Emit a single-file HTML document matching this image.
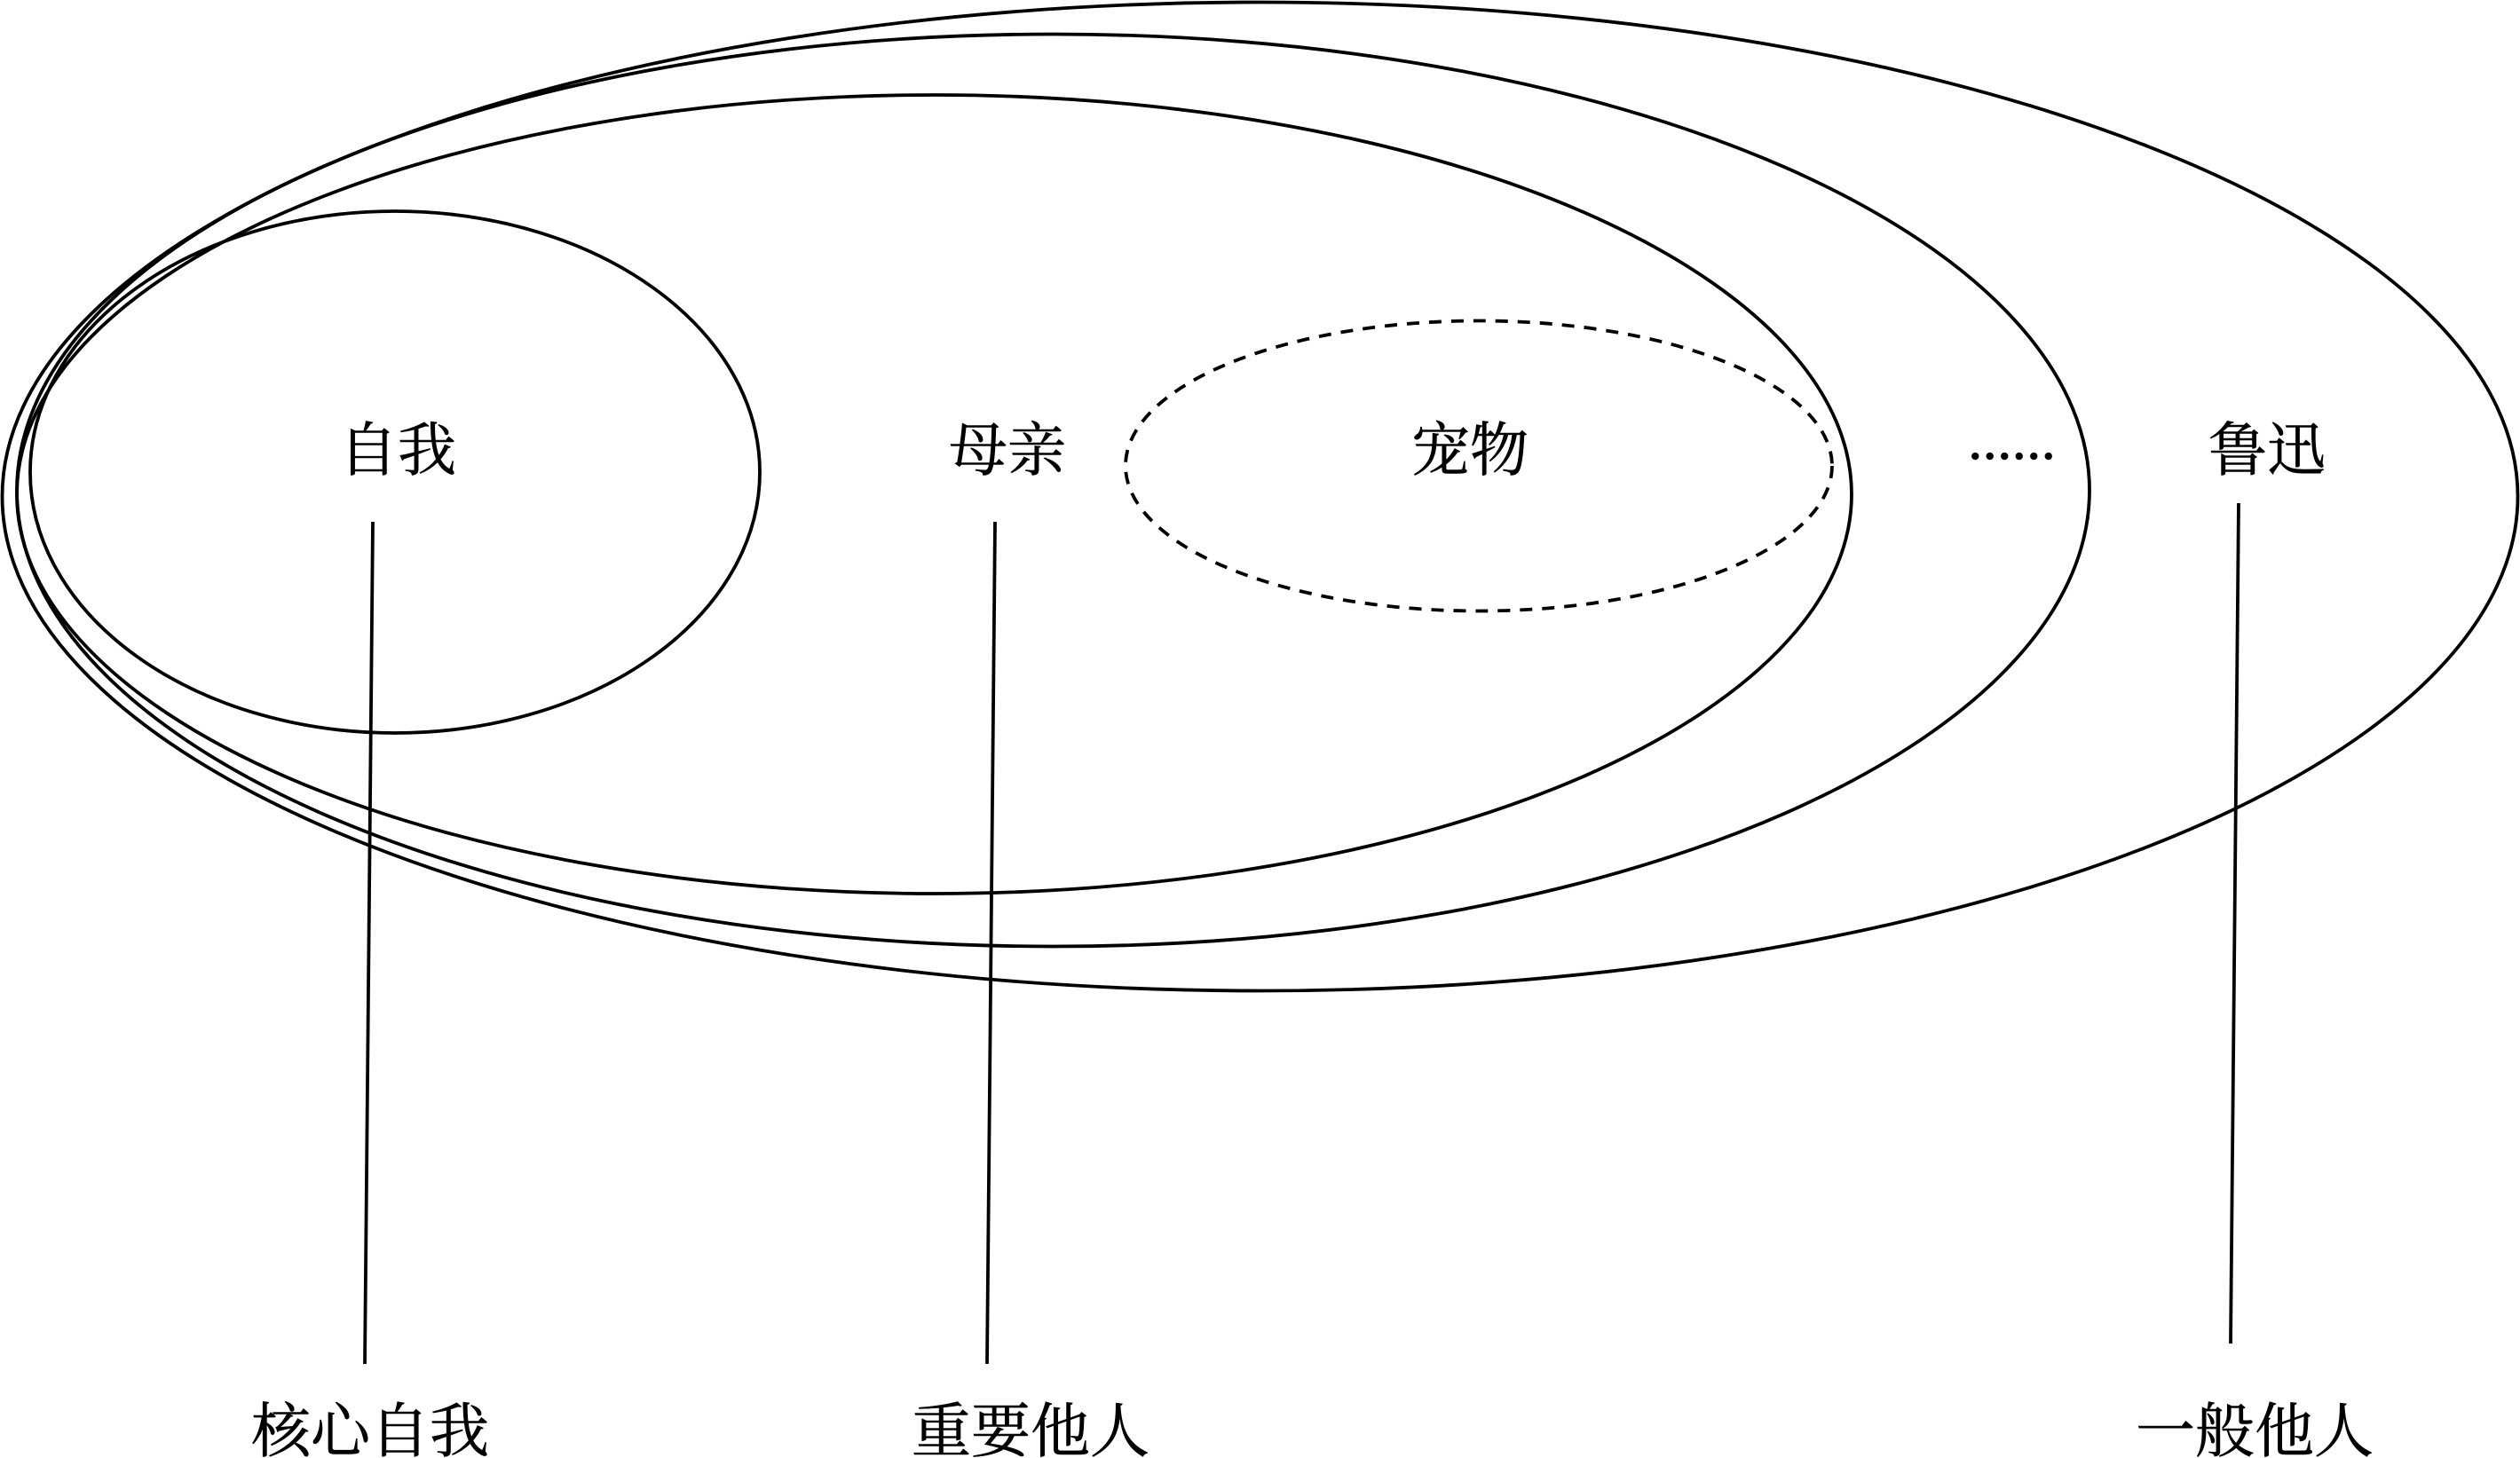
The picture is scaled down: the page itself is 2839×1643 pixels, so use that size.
<!DOCTYPE html>
<html lang="zh">
<head>
<meta charset="utf-8">
<title>自我</title>
<style>
html,body{margin:0;padding:0;background:#fff;}
svg{display:block;}
text{font-family:"Liberation Serif","Noto Serif CJK SC",serif;font-size:66px;fill:#000;stroke:#000;stroke-width:.6px;}
.b{font-size:67px;}
</style>
</head>
<body>
<svg width="2839" height="1643" viewBox="0 0 2839 1643" xmlns="http://www.w3.org/2000/svg">
<g fill="none" stroke="#000" stroke-width="3.8">
<ellipse cx="445" cy="532" rx="411" ry="294"/>
<ellipse cx="1052.5" cy="557" rx="1033.5" ry="450"/>
<ellipse cx="1186.5" cy="552.5" rx="1167.5" ry="514"/>
<ellipse cx="1419.5" cy="559.5" rx="1417" ry="557"/>
<ellipse cx="1666" cy="525" rx="398" ry="163.5" stroke-dasharray="14 11"/>
<line x1="420" y1="588" x2="411" y2="1537"/>
<line x1="1121" y1="588" x2="1112" y2="1537"/>
<line x1="2522" y1="567" x2="2513" y2="1514"/>
</g>
<text x="448" y="530" text-anchor="middle">自我</text>
<text x="1135" y="530" text-anchor="middle">母亲</text>
<text x="1656" y="530" text-anchor="middle">宠物</text>
<text x="2554" y="530" text-anchor="middle">鲁迅</text>
<text x="2217" y="517" style="font-family:'Liberation Serif',serif;font-size:66px">......</text>
<text class="b" x="417" y="1636" text-anchor="middle">核心自我</text>
<text class="b" x="1161" y="1636" text-anchor="middle">重要他人</text>
<text class="b" x="2540" y="1636" text-anchor="middle">一般他人</text>
</svg>
</body>
</html>
